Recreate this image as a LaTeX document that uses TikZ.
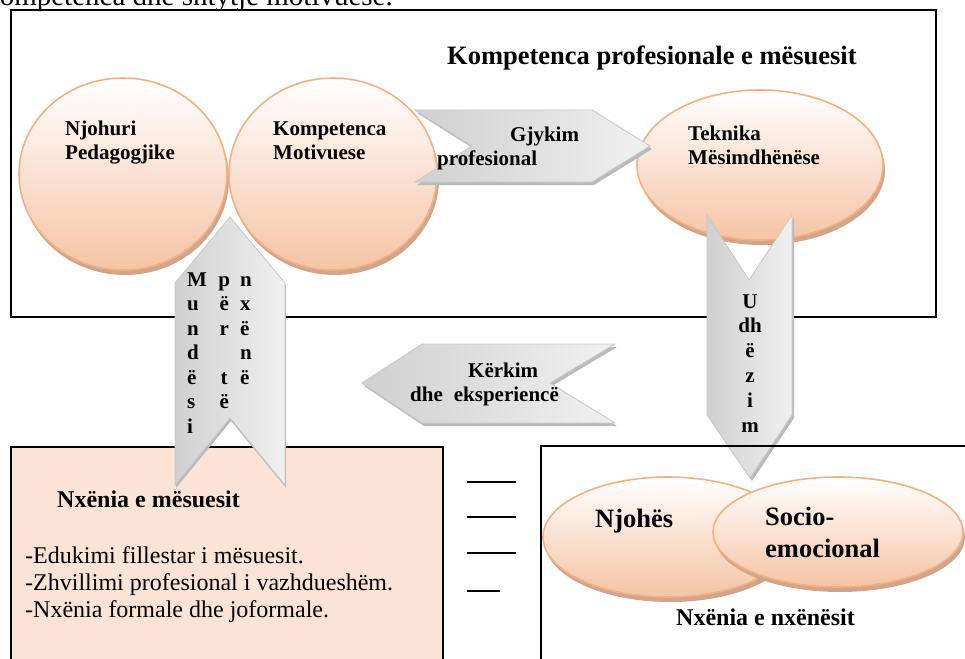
\documentclass[tikz,border=0pt]{standalone}
\usepackage{fontspec}
\setmainfont{Liberation Serif}
\usetikzlibrary{shadings}

\definecolor{peachline}{RGB}{244,176,130}
\definecolor{peachlow}{RGB}{245,196,164}
\definecolor{peachshadow}{RGB}{204,166,142}
\definecolor{boxfill}{RGB}{251,228,213}
\definecolor{ribbonline}{RGB}{200,200,200}
\definecolor{ribbondark}{RGB}{208,208,208}
\definecolor{ribbonlight}{RGB}{240,240,240}
\definecolor{ribbonshadow}{RGB}{186,186,186}

\tikzset{
  bubble/.style={draw=peachline, line width=1.6pt, top color=white, bottom color=peachlow},
  bubbleshadow/.style={fill=peachshadow, draw=none},
  ribbon/.style={draw=ribbonline, line width=0.8pt, left color=ribbondark, right color=ribbonlight},
  ribbonshade/.style={fill=ribbonshadow, draw=none},
  frame/.style={draw=black, line width=2pt},
  rule/.style={draw=black, line width=1.3pt},
  lbl/.style={inner sep=0pt, anchor=base west, font=\bfseries\fontsize{21}{24}\selectfont},
  biglbl/.style={inner sep=0pt, anchor=base west, font=\bfseries\fontsize{26.5}{30}\selectfont},
  midlbl/.style={inner sep=0pt, anchor=base west, font=\bfseries\fontsize{24}{27}\selectfont},
  bodytxt/.style={inner sep=0pt, anchor=base west, font=\fontsize{24}{27}\selectfont},
}
\newcommand\cbox[1]{\hbox to 14pt{\hss#1\hss}}

\begin{document}
\begin{tikzpicture}[x=1pt,y=-1pt]
\useasboundingbox (0,0) rectangle (965,658);
\clip (0,0) rectangle (965,658);

% line of running text above the figure
\node[inner sep=0pt, anchor=base east, font=\fontsize{29}{32}\selectfont] (runin) at (393,6) {kompetenca dhe shtytje motivuese.};

% upper frame
\draw[frame] (11,10) rectangle (936,317);
\node[biglbl] (title) at (447,65) {Kompetenca profesionale e mësuesit};

% three ovals of the upper frame
\fill[bubbleshadow] (125,179) ellipse [x radius=104pt, y radius=96pt];
\path[bubble] (123,174) ellipse [x radius=104pt, y radius=96pt];
\fill[bubbleshadow] (335,179) ellipse [x radius=104pt, y radius=96pt];
\path[bubble] (333,174) ellipse [x radius=104pt, y radius=96pt];
\fill[bubbleshadow] (762,170) ellipse [x radius=123pt, y radius=75pt];
\path[bubble] (760,165) ellipse [x radius=123pt, y radius=75pt];

\node[lbl] (njA) at (65,135) {Njohuri};
\node[lbl] (njB) at (65,159) {Pedagogjike};
\node[lbl] (kmA) at (273,135) {Kompetenca};
\node[lbl] (kmB) at (273,159) {Motivuese};
\node[lbl] (tkA) at (688,140) {Teknika};
\node[lbl] (tkB) at (688,164) {Mësimdhënëse};

% ribbon: Gjykim profesional
\fill[ribbonshade] (417,113) -- (594,113) -- (652,149) -- (594,185) -- (417,185) -- (474,149) -- cycle;
\path[ribbon] (415,110) -- (592,110) -- (650,146) -- (592,182) -- (415,182) -- (472,146) -- cycle;
\node[lbl] (gjA) at (510,141) {Gjykim};
\node[lbl] (gjB) at (437,165) {profesional};

% ribbon: Udhëzim (downwards)
\fill[ribbonshade] (709,218) -- (751,283) -- (794,218) -- (794,418) -- (752,481) -- (709,418) -- cycle;
\path[ribbon] (707,215) -- (749,280) -- (792,215) -- (792,415) -- (750,478) -- (707,415) -- cycle;
\node[inner sep=0pt, anchor=base, font=\bfseries\fontsize{21}{24}\selectfont] (udh) at (750,308)
  {\vtop{\baselineskip=24.8pt \cbox{U}\cbox{dh}\cbox{ë}\cbox{z}\cbox{i}\cbox{m}}};

% lower left frame
\draw[frame, fill=boxfill] (11,447) rectangle (443,720);
\node[midlbl] (nxm) at (57,507) {Nxënia e mësuesit};
\node[bodytxt] (it1) at (25,563) {-Edukimi fillestar i mësuesit.};
\node[bodytxt] (it2) at (25,590) {-Zhvillimi profesional i vazhdueshëm.};
\node[bodytxt] (it3) at (25,617) {-Nxënia formale dhe joformale.};

% ribbon: Mundësi për të nxënë (upwards)
\fill[ribbonshade] (231,220) -- (286,286) -- (286,488) -- (231,421) -- (176,488) -- (176,286) -- cycle;
\path[ribbon] (230,217) -- (285,283) -- (285,485) -- (230,418) -- (175,485) -- (175,283) -- cycle;
\node[inner sep=0pt, anchor=base west, font=\bfseries\fontsize{21}{24}\selectfont] (mcA) at (187,286)
  {\vtop{\baselineskip=24.5pt \hbox{M}\hbox{u}\hbox{n}\hbox{d}\hbox{ë}\hbox{s}\hbox{i}}};
\node[inner sep=0pt, anchor=base west, font=\bfseries\fontsize{21}{24}\selectfont] (mcB) at (217,286)
  {\vtop{\baselineskip=24.5pt \cbox{p}\cbox{ë}\cbox{r}\cbox{}\cbox{t}\cbox{ë}}};
\node[inner sep=0pt, anchor=base west, font=\bfseries\fontsize{21}{24}\selectfont] (mcC) at (240,286)
  {\vtop{\baselineskip=24.5pt \hbox{n}\hbox{x}\hbox{ë}\hbox{n}\hbox{ë}}};

% ribbon: Kërkim dhe eksperiencë (leftwards)
\fill[ribbonshade] (364,386) -- (424,347) -- (617,347) -- (552,386) -- (617,426) -- (424,426) -- cycle;
\path[ribbon] (362,383) -- (422,344) -- (615,344) -- (550,383) -- (615,423) -- (422,423) -- cycle;
\node[lbl] (krA) at (468,377) {Kërkim};
\node[lbl] (krB) at (410,401) {dhe\hspace{11pt}eksperiencë};

% short rules between the lower frames
\draw[rule] (467,482) -- (516,482);
\draw[rule] (467,517) -- (516,517);
\draw[rule] (467,553) -- (516,553);
\draw[rule] (467,591) -- (500,591);

% lower right frame
\draw[frame] (541,446) rectangle (1000,720);
\fill[bubbleshadow] (670,542) ellipse [x radius=125pt, y radius=60pt];
\path[bubble] (668,537) ellipse [x radius=125pt, y radius=60pt];
\node[biglbl] (njh) at (595,527) {Njohës};
\fill[bubbleshadow] (840,537) ellipse [x radius=125pt, y radius=55pt];
\path[bubble] (838,532) ellipse [x radius=125pt, y radius=55pt];
\node[biglbl] (soA) at (765,525) {Socio-};
\node[biglbl] (soB) at (765,557) {emocional};
\node[midlbl] (nxn) at (676,625) {Nxënia e nxënësit};
\end{tikzpicture}
\end{document}
